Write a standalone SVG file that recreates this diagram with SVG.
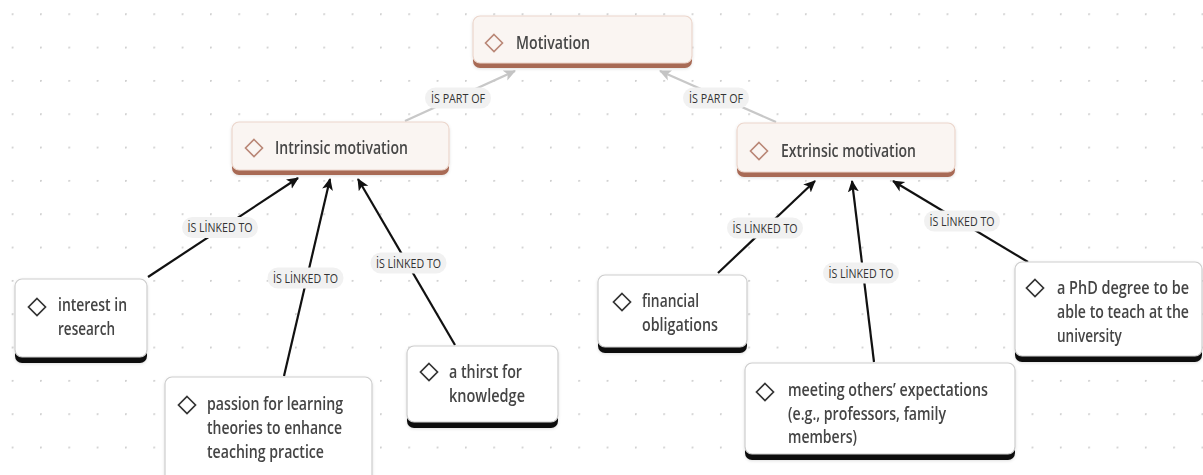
<svg xmlns="http://www.w3.org/2000/svg" width="1203" height="475" viewBox="0 0 1203 475">
  <defs>
    <pattern id="dots" x="11.7" y="13.3" width="28.33" height="33.33" patternUnits="userSpaceOnUse">
      <circle cx="0.8" cy="0.8" r="1.1" fill="#cfcfcf"/>
    </pattern>
    <marker id="arr" viewBox="0 0 12 12" refX="11" refY="6" markerWidth="12" markerHeight="12" markerUnits="userSpaceOnUse" orient="auto">
      <path d="M0,0.5 L12,6 L0,11.5 L3,6 Z" fill="#111"/>
    </marker>
    <marker id="arrg" viewBox="0 0 12 12" refX="11" refY="6" markerWidth="12" markerHeight="12" markerUnits="userSpaceOnUse" orient="auto">
      <path d="M0,0.5 L12,6 L0,11.5 L3,6 Z" fill="#c4c4c4"/>
    </marker>
    <filter id="soft" x="-10%" y="-10%" width="120%" height="130%">
      <feDropShadow dx="0" dy="1" stdDeviation="1.5" flood-color="#000" flood-opacity="0.12"/>
    </filter>
  </defs>
  <style>
    .topbar { fill: #a86a55; }
    .topbox { fill: #faf5f2; stroke: #ecd6cc; stroke-width: 1.2; }
    .topicon { fill: none; stroke: #b98676; stroke-width: 1.6; }
    .toptext { font-family: "Open Sans", "Liberation Sans", sans-serif; font-size: 17.5px; font-weight: 600; fill: #474747; }
    .leafbar { fill: #111; }
    .leafbox { fill: #ffffff; stroke: #cdcdcd; stroke-width: 1.2; }
    .leaficon { fill: none; stroke: #333; stroke-width: 1.7; }
    .leaftext { font-family: "Open Sans", "Liberation Sans", sans-serif; font-size: 17.5px; font-weight: 600; fill: #444; }
    .edge { stroke: #111; stroke-width: 2.2; fill: none; marker-end: url(#arr); }
    .edgeg { stroke: #c8c8c8; stroke-width: 2.2; fill: none; marker-end: url(#arrg); }
    .pill { fill: #f1f1f1; }
    .ltext { font-family: "Open Sans", "Liberation Sans", sans-serif; font-size: 13px; font-weight: 500; fill: #333; text-anchor: middle; }
  </style>

  <!-- dotted canvas -->
  <rect width="1203" height="475" fill="#ffffff"/>
  <rect width="1203" height="475" fill="url(#dots)"/>

  <!-- connectors and their labels -->
  <g id="connectors">
    <line class="edgeg" x1="405" y1="121" x2="515" y2="71"/>
    <line class="edgeg" x1="776" y1="122" x2="660" y2="71"/>
    <line class="edge" x1="148" y1="277" x2="298" y2="178"/>
    <line class="edge" x1="284" y1="376" x2="330" y2="179"/>
    <line class="edge" x1="455" y1="345" x2="358" y2="179"/>
    <line class="edge" x1="718" y1="273" x2="815" y2="181"/>
    <line class="edge" x1="874" y1="362" x2="852" y2="181"/>
    <line class="edge" x1="1028" y1="262" x2="893" y2="181"/>

    <rect class="pill" x="425" y="87.5" width="66" height="21" rx="10.5"/>
    <text class="ltext" x="458" y="102.5" textLength="54" lengthAdjust="spacingAndGlyphs">İS PART OF</text>
    <rect class="pill" x="683" y="87.5" width="66" height="21" rx="10.5"/>
    <text class="ltext" x="716" y="102.5" textLength="54" lengthAdjust="spacingAndGlyphs">İS PART OF</text>

    <rect class="pill" x="182" y="217" width="76" height="21" rx="10.5"/>
    <text class="ltext" x="220" y="232" textLength="65" lengthAdjust="spacingAndGlyphs">İS LİNKED TO</text>
    <rect class="pill" x="267.5" y="267.5" width="76" height="21" rx="10.5"/>
    <text class="ltext" x="305.5" y="282.5" textLength="65" lengthAdjust="spacingAndGlyphs">İS LİNKED TO</text>
    <rect class="pill" x="370.5" y="252.5" width="76" height="21" rx="10.5"/>
    <text class="ltext" x="408.5" y="267.5" textLength="65" lengthAdjust="spacingAndGlyphs">İS LİNKED TO</text>
    <rect class="pill" x="727" y="217.5" width="76" height="21" rx="10.5"/>
    <text class="ltext" x="765" y="232.5" textLength="65" lengthAdjust="spacingAndGlyphs">İS LİNKED TO</text>
    <rect class="pill" x="823" y="262.5" width="76" height="21" rx="10.5"/>
    <text class="ltext" x="861" y="277.5" textLength="65" lengthAdjust="spacingAndGlyphs">İS LİNKED TO</text>
    <rect class="pill" x="924" y="210.5" width="76" height="21" rx="10.5"/>
    <text class="ltext" x="962" y="225.5" textLength="65" lengthAdjust="spacingAndGlyphs">İS LİNKED TO</text>
  </g>

  <!-- top-level concepts -->
  <g id="motivation" filter="url(#soft)">
    <rect class="topbar" x="473" y="20" width="219" height="48" rx="7"/>
    <rect class="topbox" x="473" y="16" width="219" height="47" rx="7"/>
    <path class="topicon" d="M494,34.5 L502.5,43 L494,51.5 L485.5,43 Z"/>
    <text class="toptext" x="516" y="49" textLength="74" lengthAdjust="spacingAndGlyphs">Motivation</text>
  </g>

  <g id="intrinsic" filter="url(#soft)">
    <rect class="topbar" x="232" y="126" width="217" height="49" rx="7"/>
    <rect class="topbox" x="232" y="122" width="217" height="48" rx="7"/>
    <path class="topicon" d="M254,139.5 L262.5,148 L254,156.5 L245.5,148 Z"/>
    <text class="toptext" x="275" y="154" textLength="133" lengthAdjust="spacingAndGlyphs">Intrinsic motivation</text>
  </g>

  <g id="extrinsic" filter="url(#soft)">
    <rect class="topbar" x="737" y="127" width="218" height="50" rx="7"/>
    <rect class="topbox" x="737" y="123" width="218" height="49" rx="7"/>
    <path class="topicon" d="M759,142.5 L767.5,151 L759,159.5 L750.5,151 Z"/>
    <text class="toptext" x="781" y="157" textLength="135" lengthAdjust="spacingAndGlyphs">Extrinsic motivation</text>
  </g>

  <!-- leaf concepts -->
  <g id="interest" filter="url(#soft)">
    <rect class="leafbar" x="15" y="283" width="132" height="80" rx="7"/>
    <rect class="leafbox" x="15" y="279" width="132" height="78" rx="7"/>
    <path class="leaficon" d="M37,298.5 L45.5,307 L37,315.5 L28.5,307 Z"/>
    <text class="leaftext" x="58" y="311" textLength="69" lengthAdjust="spacingAndGlyphs">interest in</text>
    <text class="leaftext" x="58" y="335" textLength="57" lengthAdjust="spacingAndGlyphs">research</text>
  </g>

  <g id="passion" filter="url(#soft)">
    <rect class="leafbar" x="165" y="381" width="207" height="110" rx="7"/>
    <rect class="leafbox" x="165" y="377" width="207" height="109" rx="7"/>
    <path class="leaficon" d="M187,396.5 L195.5,405 L187,413.5 L178.5,405 Z"/>
    <text class="leaftext" x="207" y="410" textLength="136" lengthAdjust="spacingAndGlyphs">passion for learning</text>
    <text class="leaftext" x="207" y="434" textLength="135" lengthAdjust="spacingAndGlyphs">theories to enhance</text>
    <text class="leaftext" x="207" y="458" textLength="117" lengthAdjust="spacingAndGlyphs">teaching practice</text>
  </g>

  <g id="thirst" filter="url(#soft)">
    <rect class="leafbar" x="407" y="350" width="151" height="78" rx="7"/>
    <rect class="leafbox" x="407" y="346" width="151" height="76" rx="7"/>
    <path class="leaficon" d="M429,363.5 L437.5,372 L429,380.5 L420.5,372 Z"/>
    <text class="leaftext" x="449" y="378" textLength="73" lengthAdjust="spacingAndGlyphs">a thirst for</text>
    <text class="leaftext" x="449" y="402" textLength="76" lengthAdjust="spacingAndGlyphs">knowledge</text>
  </g>

  <g id="financial" filter="url(#soft)">
    <rect class="leafbar" x="598" y="279" width="149" height="74" rx="7"/>
    <rect class="leafbox" x="598" y="275" width="149" height="72" rx="7"/>
    <path class="leaficon" d="M622,293.5 L630.5,302 L622,310.5 L613.5,302 Z"/>
    <text class="leaftext" x="642" y="307" textLength="57" lengthAdjust="spacingAndGlyphs">financial</text>
    <text class="leaftext" x="642" y="331" textLength="76" lengthAdjust="spacingAndGlyphs">obligations</text>
  </g>

  <g id="expectations" filter="url(#soft)">
    <rect class="leafbar" x="745" y="367" width="270" height="93" rx="7"/>
    <rect class="leafbox" x="745" y="363" width="270" height="91" rx="7"/>
    <path class="leaficon" d="M765,383.5 L773.5,392 L765,400.5 L756.5,392 Z"/>
    <text class="leaftext" x="788" y="396" textLength="200" lengthAdjust="spacingAndGlyphs">meeting others’ expectations</text>
    <text class="leaftext" x="788" y="420" textLength="158" lengthAdjust="spacingAndGlyphs">(e.g., professors, family</text>
    <text class="leaftext" x="788" y="443" textLength="69" lengthAdjust="spacingAndGlyphs">members)</text>
  </g>

  <g id="phd" filter="url(#soft)">
    <rect class="leafbar" x="1015" y="266" width="187" height="96" rx="7"/>
    <rect class="leafbox" x="1015" y="262" width="187" height="94" rx="7"/>
    <path class="leaficon" d="M1035,279.5 L1043.5,288 L1035,296.5 L1026.5,288 Z"/>
    <!-- narrow face: compress the lines horizontally so they sit inside the card -->
    <g transform="translate(1057,0) scale(0.8,1)">
      <text class="leaftext" x="0" y="294" textLength="165" lengthAdjust="spacingAndGlyphs">a PhD degree to be</text>
      <text class="leaftext" x="0" y="318" textLength="165" lengthAdjust="spacingAndGlyphs">able to teach at the</text>
      <text class="leaftext" x="0" y="342" textLength="81" lengthAdjust="spacingAndGlyphs">university</text>
    </g>
  </g>
</svg>
